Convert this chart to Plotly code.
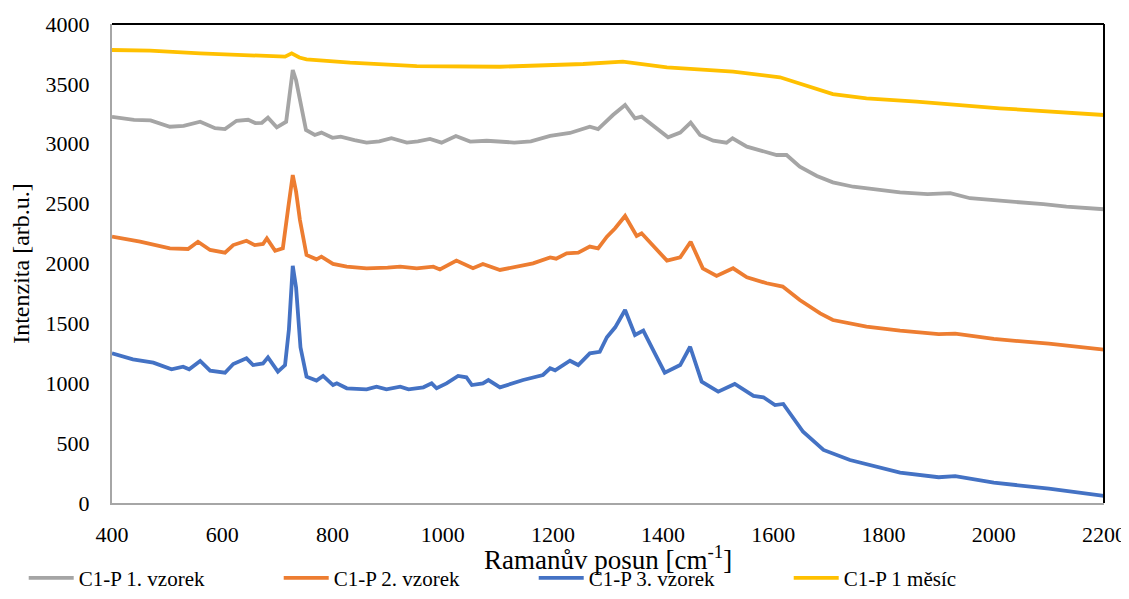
import plotly.graph_objects as go

series_names = ["C1-P 1. vzorek", "C1-P 2. vzorek", "C1-P 3. vzorek", "C1-P 1 měsíc"]

gray_x = [400, 440, 470, 505, 530, 560, 587, 605, 626, 647, 660, 672, 683, 699, 716, 722, 728, 734, 741, 752, 768, 780, 800, 815, 840, 862, 885, 907, 935, 955, 977, 998, 1024, 1050, 1080, 1104, 1130, 1160, 1195, 1231, 1267, 1282, 1309, 1331, 1349, 1361, 1385, 1409, 1431, 1450, 1467, 1491, 1515, 1526, 1552, 1588, 1606, 1624, 1648, 1679, 1708, 1745, 1799, 1830, 1880, 1921, 1957, 2000, 2041, 2090, 2132, 2200]
gray_y = [3225, 3200, 3195, 3142, 3150, 3184, 3130, 3123, 3192, 3200, 3173, 3175, 3218, 3137, 3184, 3393, 3616, 3530, 3365, 3115, 3073, 3093, 3050, 3060, 3030, 3009, 3020, 3046, 3009, 3020, 3040, 3009, 3065, 3018, 3025, 3018, 3010, 3020, 3065, 3090, 3142, 3123, 3240, 3324, 3212, 3226, 3142, 3054, 3093, 3176, 3073, 3026, 3009, 3046, 2976, 2925, 2906, 2906, 2808, 2731, 2678, 2641, 2608, 2594, 2580, 2587, 2545, 2530, 2508, 2495, 2475, 2453]

orange_x = [400, 451, 505, 538, 556, 578, 605, 620, 644, 659, 674, 681, 696, 710, 720, 728, 734, 741, 753, 771, 780, 801, 826, 862, 900, 923, 953, 983, 995, 1025, 1055, 1073, 1104, 1164, 1195, 1206, 1225, 1246, 1267, 1282, 1298, 1313, 1331, 1352, 1361, 1385, 1407, 1431, 1450, 1472, 1497, 1527, 1552, 1588, 1617, 1648, 1685, 1708, 1769, 1830, 1900, 1930, 2000, 2100, 2200]
orange_y = [2224, 2182, 2127, 2121, 2182, 2113, 2090, 2154, 2190, 2154, 2163, 2210, 2107, 2127, 2474, 2739, 2600, 2363, 2071, 2035, 2057, 1996, 1973, 1960, 1965, 1973, 1960, 1973, 1950, 2024, 1960, 1996, 1946, 2001, 2051, 2040, 2085, 2090, 2141, 2127, 2224, 2294, 2397, 2230, 2252, 2127, 2024, 2051, 2182, 1960, 1896, 1960, 1885, 1835, 1807, 1695, 1584, 1528, 1472, 1439, 1410, 1415, 1370, 1330, 1280]

blue_x = [400, 438, 475, 508, 529, 540, 560, 578, 605, 620, 644, 656, 674, 683, 701, 714, 721, 728, 734, 742, 753, 771, 783, 801, 808, 826, 862, 880, 898, 923, 938, 965, 980, 989, 1007, 1028, 1043, 1053, 1073, 1083, 1104, 1146, 1182, 1195, 1204, 1231, 1246, 1267, 1285, 1298, 1313, 1331, 1349, 1364, 1385, 1403, 1431, 1449, 1470, 1500, 1530, 1564, 1582, 1603, 1618, 1630, 1654, 1691, 1739, 1830, 1900, 1930, 2000, 2100, 2200]
blue_y = [1250, 1200, 1172, 1116, 1138, 1116, 1186, 1105, 1088, 1161, 1208, 1152, 1166, 1216, 1097, 1152, 1450, 1980, 1800, 1300, 1055, 1022, 1061, 985, 1000, 958, 949, 971, 949, 971, 949, 966, 999, 958, 999, 1061, 1050, 985, 999, 1027, 966, 1027, 1069, 1125, 1108, 1188, 1152, 1250, 1263, 1384, 1467, 1612, 1403, 1439, 1250, 1088, 1152, 1305, 1013, 930, 994, 894, 883, 818, 827, 749, 595, 443, 359, 253, 215, 225, 170, 120, 60]

yellow_x = [400, 469, 560, 650, 714, 726, 740, 753, 832, 953, 1104, 1255, 1327, 1407, 1527, 1612, 1648, 1708, 1769, 1860, 2011, 2200]
yellow_y = [3783, 3777, 3755, 3741, 3727, 3755, 3720, 3705, 3677, 3649, 3643, 3666, 3685, 3638, 3602, 3555, 3505, 3415, 3379, 3352, 3296, 3240]

x_ticks = [400, 600, 800, 1000, 1200, 1400, 1600, 1800, 2000, 2200]
y_ticks = [0, 500, 1000, 1500, 2000, 2500, 3000, 3500, 4000]

x_title = "Ramanův posun [cm<sup>-1</sup>]"
y_title = "Intenzita [arb.u.]"

colors = ["#A5A5A5", "#ED7D31", "#4472C4", "#FFC000"]
xs = [gray_x, orange_x, blue_x, yellow_x]
ys = [gray_y, orange_y, blue_y, yellow_y]

FONT = "Liberation Serif, Times New Roman, serif"
fig = go.Figure()
for name, x, y, c in zip(series_names, xs, ys, colors):
    fig.add_trace(go.Scatter(x=x, y=y, mode="lines", name=name,
                             line=dict(color=c, width=3.8)))

fig.update_layout(
    width=1121, height=591,
    margin=dict(l=104, r=25, t=16, b=96, autoexpand=False),
    paper_bgcolor="white", plot_bgcolor="white",
    font=dict(family=FONT, size=22, color="black"),
    showlegend=True,
    legend=dict(orientation="h", x=-0.089, xanchor="left", y=-0.157, yanchor="middle",
                font=dict(family=FONT, size=21), entrywidth=195, entrywidthmode="pixels",
                itemwidth=45, tracegroupgap=0),
    xaxis=dict(range=[400, 2200], tickvals=x_ticks, showgrid=False, zeroline=False,
               showline=True, linecolor="#A6A6A6", linewidth=2, ticks="",
               ticklabelstandoff=11, automargin=False),
    yaxis=dict(range=[0, 4000], tickvals=y_ticks, showgrid=False, zeroline=False,
               showline=True, linecolor="#A6A6A6", linewidth=2, ticks="",
               ticklabelstandoff=16, automargin=False,
               title=dict(text=y_title, font=dict(family=FONT, size=24), standoff=13)),
)
fig.add_annotation(text=x_title, xref="paper", yref="paper", x=0.5, y=-0.115,
                   xanchor="center", yanchor="middle", showarrow=False,
                   font=dict(family=FONT, size=27, color="black"))
fig.add_shape(type="line", xref="paper", yref="paper", x0=0, x1=1, y0=1, y1=1,
              line=dict(color="black", width=2))
fig.add_shape(type="line", xref="paper", yref="paper", x0=1, x1=1, y0=0, y1=1,
              line=dict(color="black", width=2))

fig.write_html("out.html")
